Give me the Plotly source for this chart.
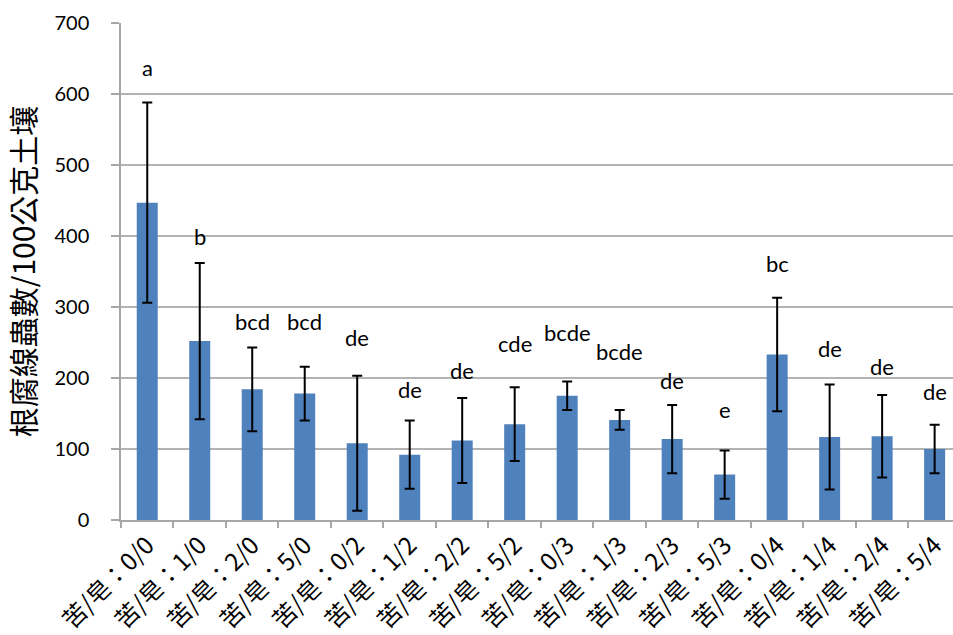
import plotly.graph_objects as go

# Treatment groups (苦 / 皂 ratio)
categories = ["苦/皂：0/0", "苦/皂：1/0", "苦/皂：2/0", "苦/皂：5/0",
              "苦/皂：0/2", "苦/皂：1/2", "苦/皂：2/2", "苦/皂：5/2",
              "苦/皂：0/3", "苦/皂：1/3", "苦/皂：2/3", "苦/皂：5/3",
              "苦/皂：0/4", "苦/皂：1/4", "苦/皂：2/4", "苦/皂：5/4"]

# Mean nematode counts per 100 g soil and their errors
means = [447, 252, 184, 178, 108, 92, 112, 135, 175, 141, 114, 64, 233, 117, 118, 100]
errors = [141, 110, 59, 38, 95, 48, 60, 52, 20, 14, 48, 34, 80, 74, 58, 34]

# Significance letters and the height at which each is written
letters = ["a", "b", "bcd", "bcd", "de", "de", "de", "cde",
           "bcde", "bcde", "de", "e", "bc", "de", "de", "de"]
letter_y = [637, 400, 279, 279, 257, 184, 211, 249,
            264, 237, 197, 155, 361, 242, 216, 181]

y_ticks = [0, 100, 200, 300, 400, 500, 600, 700]

latin_font = "Lato, 'Open Sans', sans-serif"
cjk_font = "'Noto Sans CJK TC', 'Noto Sans CJK SC', sans-serif"

fig = go.Figure()
fig.add_trace(go.Bar(
    x=categories,
    y=means,
    width=0.4,
    marker=dict(color="#4F81BD", line=dict(width=0)),
    error_y=dict(type="data", array=errors, visible=True,
                 color="black", thickness=2, width=5),
))

for cat, txt, yy in zip(categories, letters, letter_y):
    fig.add_annotation(x=cat, y=yy, text=txt, showarrow=False,
                       font=dict(family=latin_font, size=22, color="black"),
                       xanchor="center", yanchor="middle")

fig.update_layout(
    width=953, height=635,
    margin=dict(l=121, r=0, t=23, b=115, autoexpand=False),
    paper_bgcolor="white", plot_bgcolor="white",
    showlegend=False,
    xaxis=dict(
        type="category",
        automargin=False,
        range=[-0.5, 15.35],
        showline=True, linecolor="#A6A6A6", linewidth=1.5,
        ticks="outside", tickson="boundaries", ticklen=6,
        tickcolor="#A6A6A6", tickwidth=1.5,
        tickangle=-45,
        tickfont=dict(family=cjk_font, size=24, color="black"),
        showgrid=False,
    ),
    yaxis=dict(
        automargin=False,
        range=[0, 700],
        tickvals=y_ticks,
        showline=True, linecolor="#A6A6A6", linewidth=1.5,
        ticks="outside", ticklen=8, tickcolor="#A6A6A6", tickwidth=1.5,
        ticklabelstandoff=18,
        showgrid=True, gridcolor="#B3B3B3", gridwidth=1.5,
        zeroline=False,
        tickfont=dict(family=latin_font, size=20, color="black"),
        title=dict(text="根腐線蟲數/100公克土壤",
                   font=dict(family=cjk_font, size=30, color="black"),
                   standoff=14),
    ),
)

fig.write_html("out.html")
